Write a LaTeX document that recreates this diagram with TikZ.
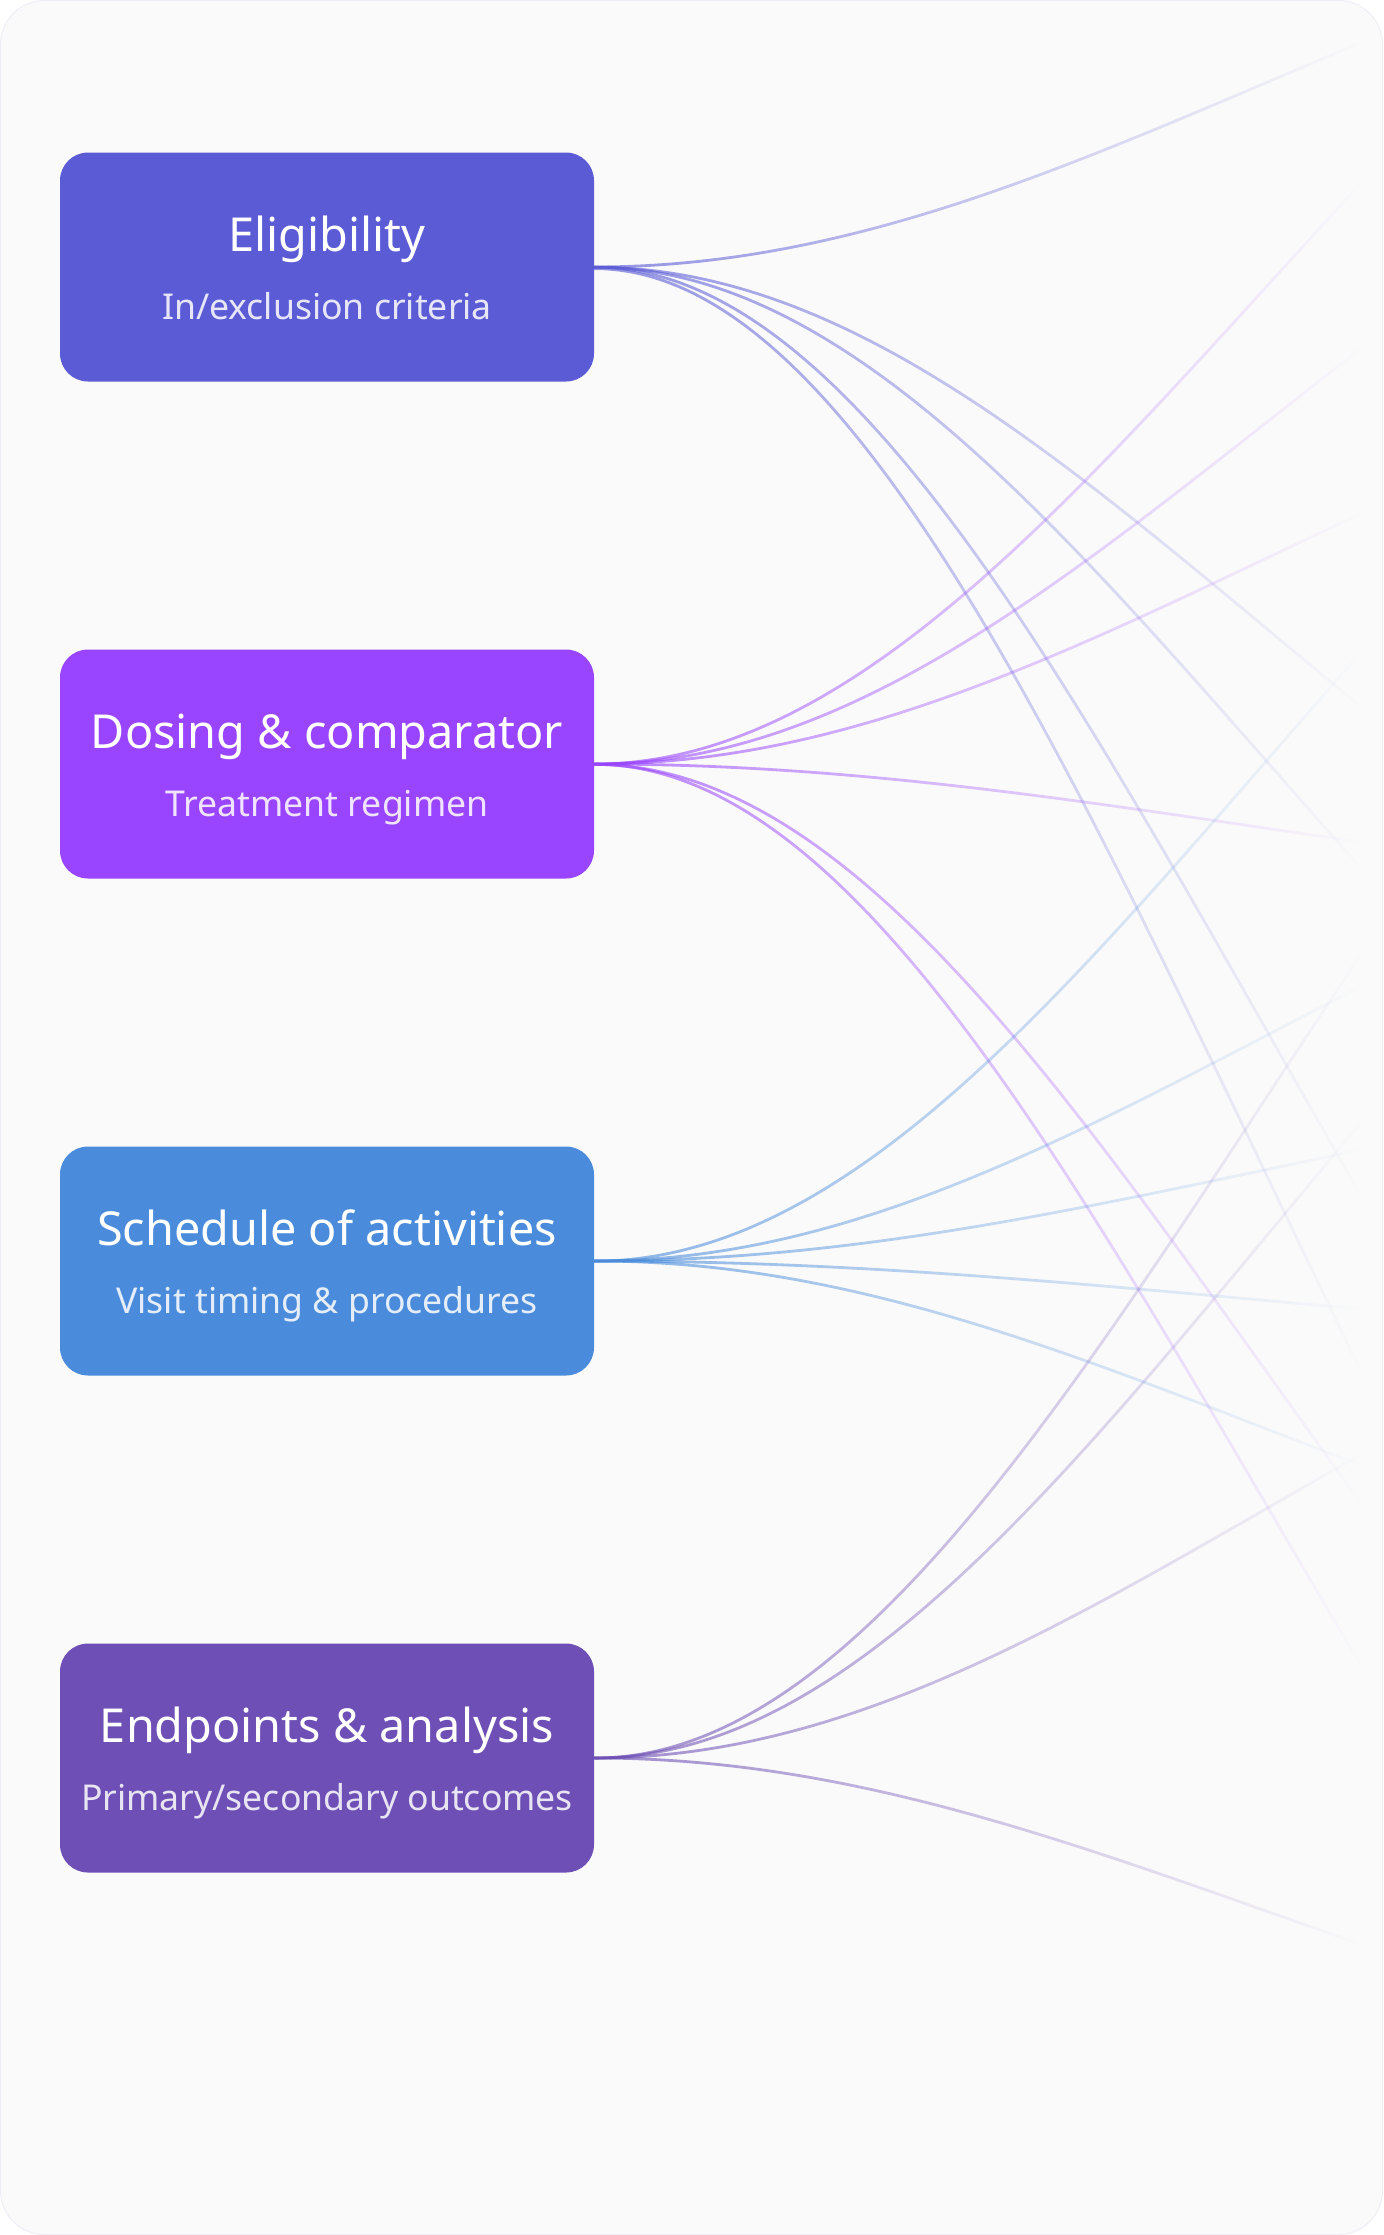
\documentclass[tikz,border=0pt]{standalone}
\usepackage{fontspec}
\setmainfont{Noto Sans}
\usepackage{tikz}
\usetikzlibrary{calc}
\usetikzlibrary{fadings}
\definecolor{elig}{HTML}{5B5BD6}
\definecolor{dosing}{HTML}{9945FF}
\definecolor{sched}{HTML}{4A8CDB}
\definecolor{endpt}{HTML}{6E4FB5}
\definecolor{cardbg}{HTML}{FAFAFA}
\definecolor{cardline}{HTML}{EEEEF6}
\tikzfading[name=fanfade, left color=transparent!35, middle color=transparent!62, right color=transparent!100]
\tikzstyle{box}=[rectangle, rounded corners=14pt, minimum width=267pt, minimum height=114.5pt, inner sep=0pt]
\tikzstyle{boxtitle}=[anchor=base, text=white, font=\fontsize{23.4}{28}\selectfont]
\tikzstyle{boxsub}=[anchor=base, text=white, text opacity=0.85, font=\fontsize{17.8}{21}\selectfont]
\tikzstyle{fan}=[line width=1.4pt, line cap=round, path fading=fanfade]
\def\fanlink(#1)(#2)#3{
    \draw [fan, #3] (#1) .. controls ($(#1) + (268, 0)$) and ($(#1)!0.5!(#2) + (115, 0)$) .. (#2);
}

\begin{document}
\begin{tikzpicture}[x=0.5pt, y=-0.5pt]
    \useasboundingbox (0, 0) rectangle (1383, 2235);
    \fill [white] (0, 0) rectangle (1383, 2235);
    \draw [fill=cardbg, draw=cardline, line width=0.5pt, rounded corners=22pt] (0.5, 0.5) rectangle (1382.5, 2234.5);

    \node [box, fill=elig] (elig) at (327, 267) {};
    \node [box, fill=dosing] (dosing) at (327, 764) {};
    \node [box, fill=sched] (sched) at (327, 1261) {};
    \node [box, fill=endpt] (endpt) at (327, 1758) {};

    \node [boxtitle] (eligT) at ([yshift=8pt]elig.center) {Eligibility};
    \node [boxsub] (eligS) at ([yshift=-26pt]elig.center) {In/exclusion criteria};
    \node [boxtitle] (dosingT) at ([yshift=8pt]dosing.center) {Dosing \& comparator};
    \node [boxsub] (dosingS) at ([yshift=-26pt]dosing.center) {Treatment regimen};
    \node [boxtitle] (schedT) at ([yshift=8pt]sched.center) {Schedule of activities};
    \node [boxsub] (schedS) at ([yshift=-26pt]sched.center) {Visit timing \& procedures};
    \node [boxtitle] (endptT) at ([yshift=8pt]endpt.center) {Endpoints \& analysis};
    \node [boxsub] (endptS) at ([yshift=-26pt]endpt.center) {Primary/secondary outcomes};

    \coordinate (e1) at (1360, 43);
    \coordinate (e2) at (1360, 706);
    \coordinate (e3) at (1360, 1369);
    \coordinate (e4) at (1360, 1194);
    \coordinate (e5) at (1360, 867);

    \coordinate (d1) at (1360, 184);
    \coordinate (d2) at (1360, 349);
    \coordinate (d3) at (1360, 514);
    \coordinate (d4) at (1360, 842);
    \coordinate (d5) at (1360, 1664);
    \coordinate (d6) at (1360, 1502);

    \coordinate (s1) at (1360, 653);
    \coordinate (s2) at (1360, 987);
    \coordinate (s3) at (1360, 1150);
    \coordinate (s4) at (1360, 1309);
    \coordinate (s5) at (1360, 1465);

    \coordinate (p1) at (1360, 955);
    \coordinate (p2) at (1360, 1124);
    \coordinate (p3) at (1360, 1455);
    \coordinate (p4) at (1360, 1944);

    \fanlink(elig.east)(e1){elig};
    \fanlink(elig.east)(e2){elig};
    \fanlink(elig.east)(e3){elig};
    \fanlink(elig.east)(e4){elig};
    \fanlink(elig.east)(e5){elig};

    \fanlink(dosing.east)(d1){dosing};
    \fanlink(dosing.east)(d2){dosing};
    \fanlink(dosing.east)(d3){dosing};
    \fanlink(dosing.east)(d4){dosing};
    \fanlink(dosing.east)(d5){dosing};
    \fanlink(dosing.east)(d6){dosing};

    \fanlink(sched.east)(s1){sched};
    \fanlink(sched.east)(s2){sched};
    \fanlink(sched.east)(s3){sched};
    \fanlink(sched.east)(s4){sched};
    \fanlink(sched.east)(s5){sched};

    \fanlink(endpt.east)(p1){endpt};
    \fanlink(endpt.east)(p2){endpt};
    \fanlink(endpt.east)(p3){endpt};
    \fanlink(endpt.east)(p4){endpt};
\end{tikzpicture}
\end{document}
